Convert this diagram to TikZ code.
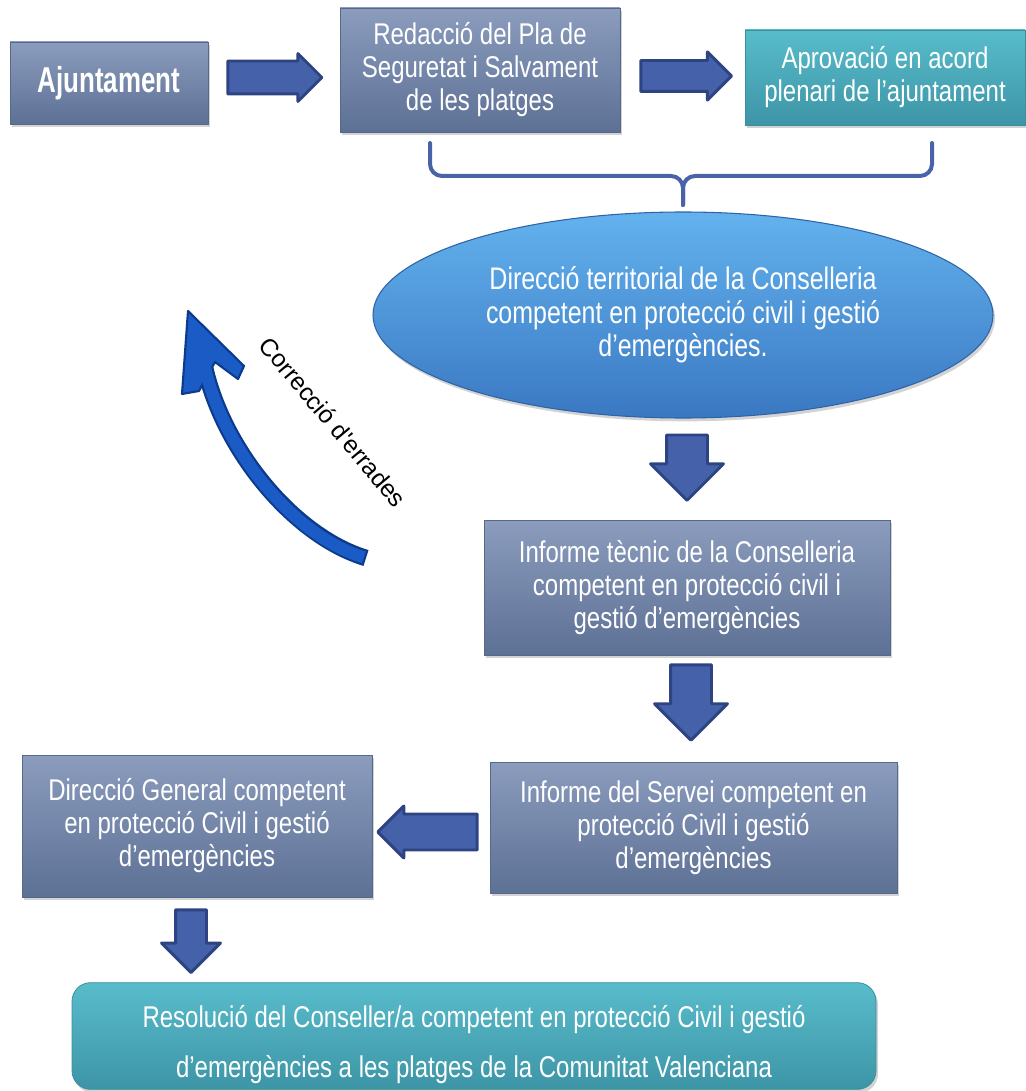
\documentclass[tikz,border=0pt]{standalone}
\usepackage{fontspec}
\setmainfont{Liberation Sans}[FakeStretch=0.8]
\newfontfamily\ajfont{Liberation Sans}[FakeStretch=0.72]
\newfontfamily\labfont{Liberation Sans}
\usetikzlibrary{shapes.geometric,shapes.arrows,shadows,calc}
\definecolor{slatetop}{HTML}{8B9CBD}
\definecolor{slatebot}{HTML}{5D7195}
\definecolor{slateedge}{HTML}{56698C}
\definecolor{tealtop}{HTML}{58BCCB}
\definecolor{tealbot}{HTML}{3D95A6}
\definecolor{tealedge}{HTML}{3A8E9E}
\definecolor{elltop}{HTML}{63B2EE}
\definecolor{ellbot}{HTML}{3A78C2}
\definecolor{elledge}{HTML}{2E63A6}
\definecolor{arrowfill}{HTML}{4561A9}
\definecolor{arrowedge}{HTML}{2E4482}
\definecolor{bracecol}{HTML}{4A63A8}
\definecolor{curvefill}{HTML}{1B5BC6}
\definecolor{curveedge}{HTML}{0C3A8C}
\begin{document}
\begin{tikzpicture}[x=0.75pt,y=-0.75pt,
  txt/.style={text=white, align=center, font=\fontsize{22.5}{24.75}\selectfont},
  shad/.style={drop shadow={opacity=0.35,shadow xshift=1.5pt,shadow yshift=-2.5pt}},
  slatebox/.style={rectangle, draw=slateedge, line width=0.6pt, top color=slatetop, bottom color=slatebot, shad, inner sep=0pt, txt},
  tealbox/.style={rectangle, draw=tealedge, line width=0.6pt, top color=tealtop, bottom color=tealbot, shad, inner sep=0pt, txt},
  barrow/.style={single arrow, draw=arrowedge, fill=arrowfill, line width=2.2pt, line join=round, inner xsep=0pt, minimum width=0pt, anchor=tail},
  bracestyle/.style={draw=bracecol, line width=3pt, rounded corners=9pt, line cap=round}
]
\useasboundingbox (0,0) rectangle (1025,1091);

% boxes
\node[slatebox, minimum width=148.5pt, minimum height=61.5pt, font=\fontsize{27}{30}\ajfont\bfseries] (aj) at (109,83) {Ajuntament};
\node[slatebox, minimum width=210pt, minimum height=93pt] (red) at (480,70) {Redacció del Pla de\\Seguretat i Salvament\\de les platges};
\node[tealbox, minimum width=210pt, minimum height=71.25pt] (apr) at (885,77.5) {Aprovació en acord\\plenari de l’ajuntament};
\node[ellipse, draw=elledge, line width=0.8pt, top color=elltop, bottom color=ellbot, shad, inner sep=0pt, minimum width=465pt, minimum height=154.5pt, txt, font=\fontsize{23.4}{25}\selectfont] (ell) at (683,315) {Direcció territorial de la Conselleria\\competent en protecció civil i gestió\\d’emergències.};
\node[slatebox, minimum width=304.5pt, minimum height=101.25pt] (tec) at (687,587.5) {Informe tècnic de la Conselleria\\competent en protecció civil i\\gestió d’emergències};
\node[slatebox, minimum width=305.25pt, minimum height=98.25pt] (srv) at (693.5,827.5) {Informe del Servei competent en\\protecció Civil i gestió\\d’emergències};
\node[slatebox, minimum width=262.5pt, minimum height=106.5pt] (dg) at (197,826) {Direcció General competent\\en protecció Civil i gestió\\d’emergències};
\node[tealbox, rounded corners=14pt, minimum width=603pt, minimum height=80pt] (res) at (474,1036) {};
\node[txt, font=\fontsize{22.5}{37.5}\selectfont] (restext) at ($(res.center)+(0,9)$) {Resolució del Conseller/a competent en protecció Civil i gestió\\d’emergències a les platges de la Comunitat Valenciana};

% block arrows
\node[barrow, inner ysep=11.25pt, single arrow head extend=5.6pt, minimum height=70.5pt] (a1) at ($(aj.east)+(18,-5.5)$) {};
\node[barrow, inner ysep=10.5pt, single arrow head extend=6.5pt, minimum height=68pt] (a2) at ($(red.east)+(19,6)$) {};
\node[barrow, rotate=-90, inner ysep=14.25pt, single arrow head extend=12pt, minimum height=49pt] (a3) at ($(ell.south)+(4,15)$) {};
\node[barrow, rotate=-90, inner ysep=14.25pt, single arrow head extend=12pt, minimum height=56.5pt] (a4) at ($(tec.south)+(4,8)$) {};
\node[barrow, rotate=180, inner ysep=12.4pt, single arrow head extend=6pt, minimum height=74.5pt] (a5) at ($(srv.west)+(-11,4.5)$) {};
\node[barrow, rotate=-90, inner ysep=10.5pt, single arrow head extend=10.5pt, minimum height=47pt] (a6) at ($(dg.south)+(-6,11)$) {};

% brace from the two boxes to the ellipse
\coordinate (bl) at (430,143);
\coordinate (br) at (932,143);
\coordinate (bm) at (683,176);
\coordinate (bt) at (683,205);
\path[bracestyle] (bl) |- (bm) -- (bt);
\path[bracestyle] (br) |- (bm) -- (bt);

% curved correction arrow
\coordinate (ct) at (366,558);
\coordinate (ch) at (202,352);
\draw[curveedge, line width=12.5pt] (ct) .. controls (290,535) and (215,440) .. (ch);
\filldraw[fill=curvefill, draw=curveedge, line width=1.6pt, line join=round]
  (188,311) -- (244,366) -- (238,379) -- (215,362) -- (199,391) -- (182,394) -- cycle;
\draw[curvefill, line width=9.2pt, shorten <=1.7pt] (ct) .. controls (290,535) and (215,440) .. (ch);
\node[rotate=-50, font=\fontsize{18.4}{22}\labfont, text=black] (lab) at (333,422) {Correcció d\textquotesingle errades};
\end{tikzpicture}
\end{document}
